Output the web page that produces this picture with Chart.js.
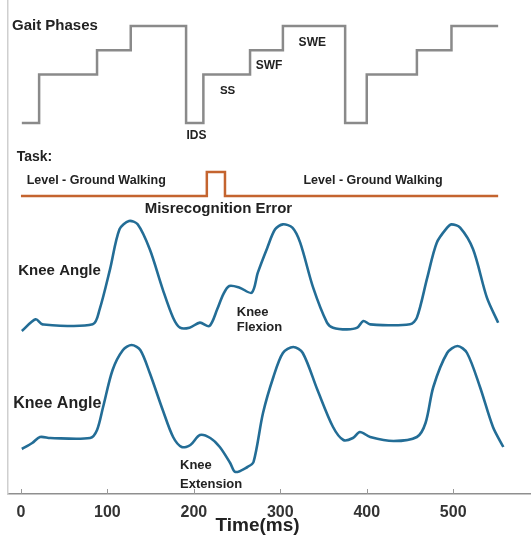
<!DOCTYPE html>
<html>
<head>
<meta charset="utf-8">
<script src="https://cdn.jsdelivr.net/npm/chart.js@4.4.1/dist/chart.umd.min.js"></script>
<style>
  html, body { margin: 0; padding: 0; background: #fff; }
  #wrap { width: 531px; height: 537px; position: relative; }
</style>
</head>
<body>
<div id="wrap"><canvas id="gaitChart"></canvas></div>
<script>
// ===== Data (time in ms) =====
const xTicks = [0, 100, 200, 300, 400, 500];

// gait phase level: 0 = IDS, 2 = SS, 3 = SWF, 4 = SWE
const gaitTime  = [1, 21, 88, 127, 191, 211, 265, 303, 375, 400, 458, 498, 552];
const gaitLevel = [0, 2, 3, 4, 0, 2, 3, 4, 0, 2, 3, 4, 4];

// task flag: 0 = level-ground walking, 1 = misrecognised
const taskTime  = [0, 215, 236, 552];
const taskLevel = [0, 1, 0, 0];

// knee angle (deg), upper trace
const knee1Time  = [1, 17, 25, 83, 91, 103, 114, 125, 135, 149, 164, 176, 184, 195, 207, 218, 227, 234, 241, 253,
                    267, 274, 285, 294, 303, 314, 323, 338, 354, 361, 377, 389, 396, 404, 450, 458, 470, 481, 493, 498,
                    508, 523, 539, 552];
const knee1Angle = [0, 7, 4, 4, 13, 37, 61, 66, 64, 49, 25, 8, 2, 2, 5, 3, 13, 22, 27, 26,
                    23, 35, 50, 61, 64, 62, 53, 26, 5, 2, 1, 2, 6, 4, 4, 8, 32, 53, 62, 64,
                    62, 49, 20, 5];

// knee angle (deg), lower trace
const knee2Time  = [1, 13, 22, 34, 80, 88, 95, 106, 118, 128, 138, 149, 164, 176, 186, 196, 207, 219, 230, 242,
                    248, 262, 269, 280, 292, 303, 315, 326, 343, 361, 373, 384, 392, 404, 431, 458, 468, 477, 493, 505,
                    516, 531, 546, 558];
const knee2Angle = [12.5, 15.5, 18.5, 18, 18, 22, 33.5, 52, 62, 64.5, 62, 50.5, 32, 18.5, 13.5, 14.5, 19.5, 18, 13.5, 5.5,
                    1, 3.5, 6, 30.5, 48.5, 60.5, 63.5, 60.5, 42, 23.5, 17, 18, 21, 18.5, 16.5, 18.5, 25.5, 43.5, 60.5, 64,
                    60.5, 43.5, 23.5, 13.5];

const toPoints = (xs, ys) => xs.map((x, i) => ({ x: x, y: ys[i] }));

// text annotations, placed on the scale of the trace they belong to
const notes = [
  { text: 'Gait Phases', t: -10.4, axis: 'yGait', v: 4.01, size: 15, align: 'left' },
  { text: 'IDS', t: 203, axis: 'yGait', v: -0.51, size: 12, align: 'center' },
  { text: 'SS', t: 239, axis: 'yGait', v: 1.32, size: 11.5, align: 'center' },
  { text: 'SWF', t: 287, axis: 'yGait', v: 2.36, size: 12, align: 'center' },
  { text: 'SWE', t: 337, axis: 'yGait', v: 3.30, size: 12, align: 'center' },
  { text: 'Task:', t: -5, axis: 'yTask', v: 1.64, size: 14, align: 'left' },
  { text: 'Level - Ground Walking', t: 6.6, axis: 'yTask', v: 0.625, size: 12.5, align: 'left' },
  { text: 'Level - Ground Walking', t: 326.8, axis: 'yTask', v: 0.625, size: 12.5, align: 'left' },
  { text: 'Misrecognition Error', t: 228.4, axis: 'yTask', v: -0.54, size: 15, align: 'center' },
  { text: 'Knee Angle', t: -3.1, axis: 'yKnee1', v: 36.2, size: 15, align: 'left' },
  { text: 'Knee', t: 249.6, axis: 'yKnee1', v: 11.4, size: 13, align: 'left' },
  { text: 'Flexion', t: 249.6, axis: 'yKnee1', v: 2.4, size: 13, align: 'left' },
  { text: 'Knee Angle', t: -8.9, axis: 'yKnee2', v: 35, size: 16, align: 'left' },
  { text: 'Knee', t: 184, axis: 'yKnee2', v: 4.2, size: 13, align: 'left' },
  { text: 'Extension', t: 184, axis: 'yKnee2', v: -5.3, size: 13, align: 'left' }
];

const FONT = "'Liberation Sans', Arial, sans-serif";

const notesPlugin = {
  id: 'notes',
  afterDatasetsDraw(chart) {
    const ctx = chart.ctx;
    const xs = chart.scales.x;
    ctx.save();
    ctx.fillStyle = '#222';
    ctx.textBaseline = 'middle';
    notes.forEach(n => {
      ctx.font = 'bold ' + n.size + 'px ' + FONT;
      ctx.textAlign = n.align;
      ctx.fillText(n.text, xs.getPixelForValue(n.t), chart.scales[n.axis].getPixelForValue(n.v));
    });
    // small inward tick marks on the time axis
    ctx.strokeStyle = '#999';
    ctx.lineWidth = 1;
    const yb = chart.chartArea.bottom;
    xTicks.forEach(t => {
      const px = Math.round(xs.getPixelForValue(t)) + 0.5;
      ctx.beginPath();
      ctx.moveTo(px, yb);
      ctx.lineTo(px, yb - 5);
      ctx.stroke();
    });
    // axis title
    ctx.font = 'bold 19px ' + FONT;
    ctx.textAlign = 'center';
    ctx.fillText('Time(ms)', xs.getPixelForValue(273.7), xs.bottom - 11);
    ctx.restore();
  }
};

const ctx = document.getElementById('gaitChart').getContext('2d');
new Chart(ctx, {
  type: 'line',
  plugins: [notesPlugin],
  data: {
    datasets: [
      {
        label: 'Gait Phases',
        data: toPoints(gaitTime, gaitLevel),
        yAxisID: 'yGait',
        stepped: 'before',
        borderColor: '#8a8a8a',
        borderWidth: 2.5,
        pointRadius: 0
      },
      {
        label: 'Task',
        data: toPoints(taskTime, taskLevel),
        yAxisID: 'yTask',
        stepped: 'before',
        borderColor: '#c4642f',
        borderWidth: 2.5,
        pointRadius: 0
      },
      {
        label: 'Knee Angle 1',
        data: toPoints(knee1Time, knee1Angle),
        yAxisID: 'yKnee1',
        borderColor: '#236d96',
        borderWidth: 2.6,
        tension: 0.3,
        pointRadius: 0
      },
      {
        label: 'Knee Angle 2',
        data: toPoints(knee2Time, knee2Angle),
        yAxisID: 'yKnee2',
        borderColor: '#236d96',
        borderWidth: 2.6,
        tension: 0.3,
        pointRadius: 0
      }
    ]
  },
  options: {
    responsive: true,
    maintainAspectRatio: false,
    animation: false,
    layout: { padding: { left: 8, right: 0, top: 0, bottom: 0 } },
    plugins: {
      legend: { display: false },
      tooltip: { enabled: false }
    },
    scales: {
      x: {
        type: 'linear',
        min: -15,
        max: 590,
        afterBuildTicks: s => { s.ticks = xTicks.map(v => ({ value: v })); },
        afterFit: s => { s.height = 43; },
        grid: { display: false, drawTicks: false },
        border: { display: true, color: '#8f8f8f', width: 1.5 },
        ticks: {
          color: '#333',
          padding: 9,
          maxRotation: 0,
          font: { family: FONT, size: 16, weight: 'bold' }
        }
      },
      yGait: {
        position: 'left',
        min: -15.30, max: 5.072,
        afterFit: s => { s.width = 0; },
        grid: { display: false, drawTicks: false },
        border: { display: true, color: '#cfcfcf', width: 1.5 },
        ticks: { display: false }
      },
      yTask:  { display: false, min: -12.417, max: 8.167 },
      yKnee1: { display: false, min: -97.8, max: 198.6 },
      yKnee2: { display: false, min: -10, max: 237 }
    }
  }
});
</script>
</body>
</html>
